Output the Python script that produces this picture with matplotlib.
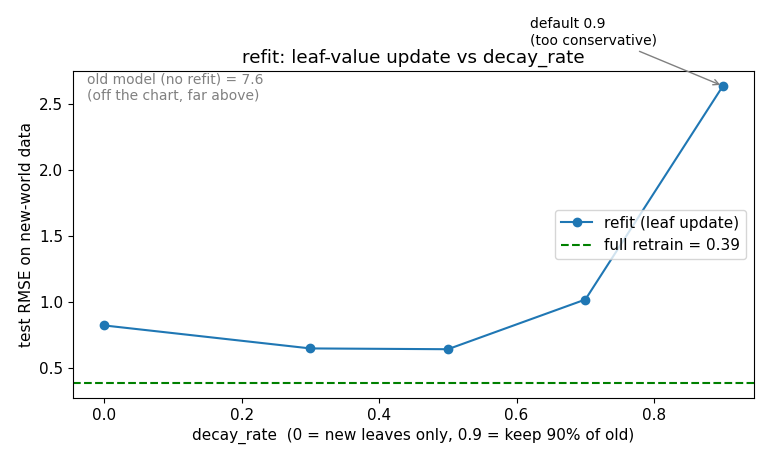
"""refit: leaf-value update vs decay_rate"""

import matplotlib
matplotlib.use("Agg")
import matplotlib.pyplot as plt
matplotlib.rc('font', **{"size": 11})

decay_rates = [0.0, 0.3, 0.5, 0.7, 0.9]
refit_rmse = [0.825, 0.651, 0.645, 1.021, 2.636]
full_retrain_rmse = 0.39
old_model_rmse = 7.6


def main():
    fig, ax = plt.subplots(figsize=(7.7, 4.62), dpi=100)
    ax.plot(decay_rates, refit_rmse, marker="o", label="refit (leaf update)")
    ax.axhline(full_retrain_rmse, color="green", linestyle="--",
               label=f"full retrain = {full_retrain_rmse:.2f}")
    ax.text(0.02, 0.995, f"old model (no refit) = {old_model_rmse}\n(off the chart, far above)",
            transform=ax.transAxes, va="top", color="gray", fontsize=10)
    ax.annotate("default 0.9\n(too conservative)",
                xy=(decay_rates[-1], refit_rmse[-1]), xytext=(0.62, 2.95),
                fontsize=10, arrowprops=dict(arrowstyle="->", color="gray"))
    ax.set_xlabel("decay_rate  (0 = new leaves only, 0.9 = keep 90% of old)")
    ax.set_ylabel("test RMSE on new-world data")
    ax.set_title("refit: leaf-value update vs decay_rate")
    ax.legend(loc="center right")
    fig.subplots_adjust(left=0.095, right=0.979, top=0.846, bottom=0.139)
    fig.savefig("out.png")


if __name__ == '__main__':
    main()
